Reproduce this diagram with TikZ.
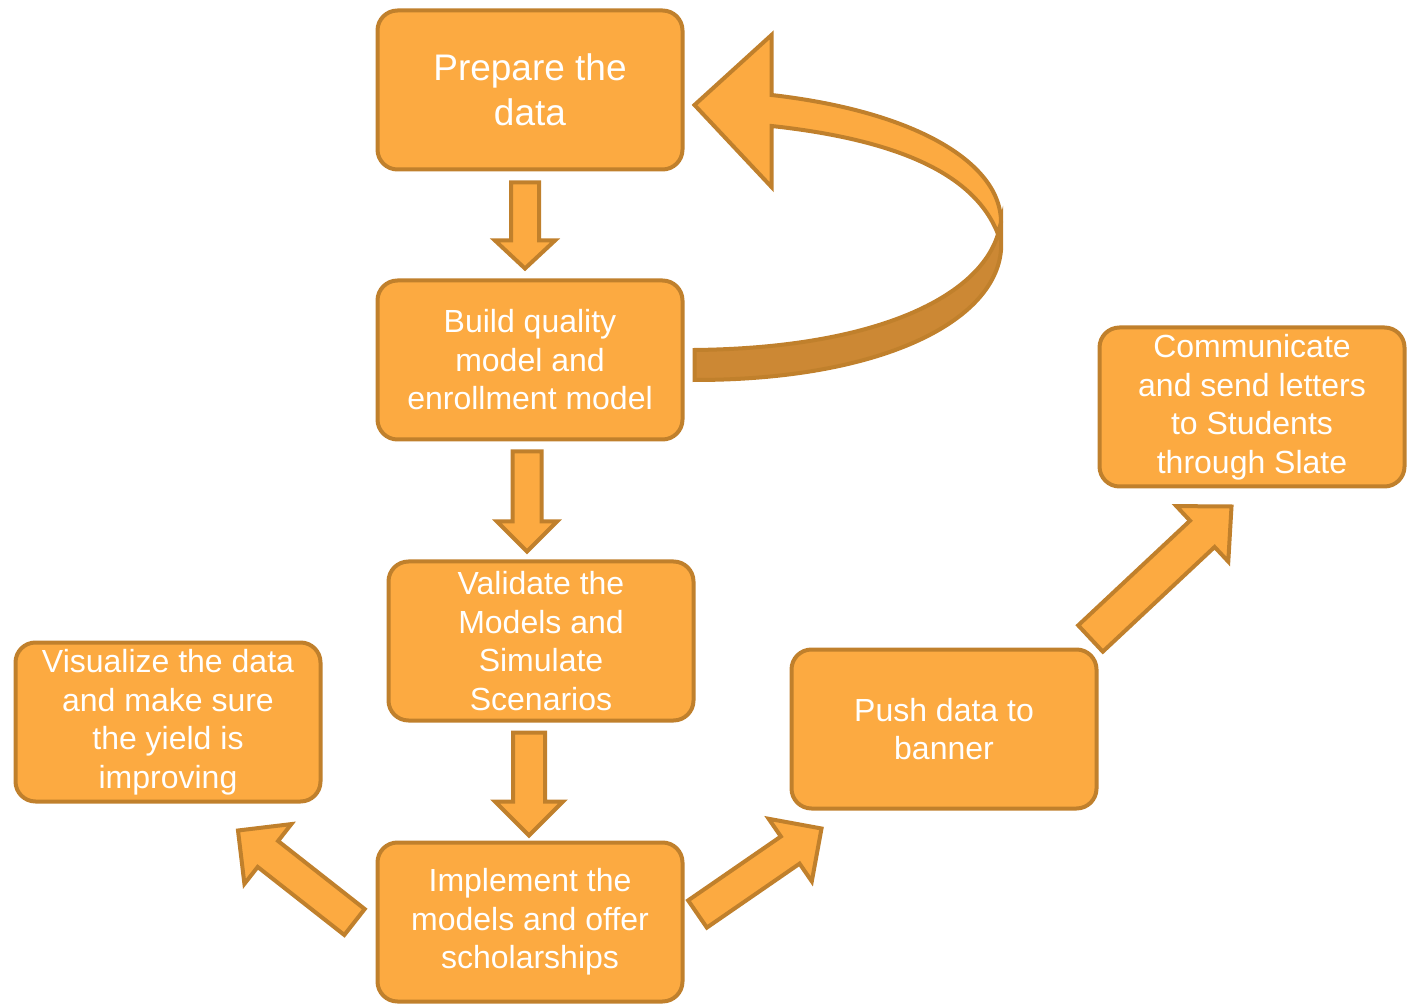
\documentclass[tikz,border=0pt]{standalone}
\usepackage{fontspec}
\setmainfont{Liberation Sans}
\usetikzlibrary{calc}
\definecolor{boxfill}{RGB}{252,170,65}
\definecolor{boxline}{RGB}{192,128,44}
\definecolor{backfill}{RGB}{204,136,52}

\tikzset{
  stepbox/.style={draw=boxline, fill=boxfill, line width=2pt, rounded corners=10pt,
    minimum width=152.5pt, minimum height=79.5pt, text width=130pt, align=flush center,
    inner sep=0pt, text=white, font=\fontsize{16}{19.25}\selectfont},
  bigtext/.style={font=\fontsize{18.5}{22.5}\selectfont},
  blockarr/.style={draw=boxline, fill=boxfill, line width=2pt, line join=miter}
}

% block arrow: start, tip, half shaft, half head, head length
\newcommand{\barrow}[5]{%
  \coordinate (hb) at ($#2!#5!#1$);
  \draw[blockarr] ($#1!#3!90:#2$) -- ($(hb)!#3!90:#2$) -- ($(hb)!#4!90:#2$) -- #2
    -- ($(hb)!#4!-90:#2$) -- ($(hb)!#3!-90:#2$) -- ($#1!#3!-90:#2$) -- cycle;
}

\begin{document}
\begin{tikzpicture}[x=0.5pt, y=-0.5pt]
  \useasboundingbox (0,0) rectangle (1412,1004);

  \node[stepbox, bigtext] (prep) at (530,90) {Prepare the data};
  \node[stepbox] (build) at (530,360) {Build quality model and enrollment model};
  \node[stepbox] (valid) at (541,641) {Validate the Models and Simulate Scenarios};
  \node[stepbox] (impl) at (530,922) {Implement the models and offer scholarships};
  \node[stepbox] (vis) at (168,722) {Visualize the data and make sure the yield is improving};
  \node[stepbox] (push) at (944,729) {Push data to banner};
  \node[stepbox, text width=120pt] (comm) at (1252,407) {Communicate and send letters to Students through Slate};

  % ends of the block arrows
  \coordinate (d1a) at ($(prep.south)+(-5,11)$);
  \coordinate (d1b) at ($(build.north)+(-5,-10)$);
  \coordinate (d2a) at ($(build.south)+(-3,10)$);
  \coordinate (d2b) at ($(valid.north)+(-14,-8)$);
  \coordinate (d3a) at ($(valid.south)+(-12,10)$);
  \coordinate (d3b) at ($(impl.north)+(-1,-5)$);
  \coordinate (l1a) at ($(impl.west)+(-21,0)$);
  \coordinate (l1b) at ($(vis.south)+(70,27)$);
  \coordinate (r1a) at ($(impl.east)+(13,-8)$);
  \coordinate (r1b) at ($(push.south west)+(32,18)$);
  \coordinate (r2a) at ($(push.north east)+(-8,-9)$);
  \coordinate (r2b) at ($(comm.south west)+(134,18)$);

  \barrow{(d1a)}{(d1b)}{7pt}{15pt}{14pt}
  \barrow{(d2a)}{(d2b)}{7.25pt}{15pt}{15pt}
  \barrow{(d3a)}{(d3b)}{8pt}{17pt}{17pt}
  \barrow{(l1a)}{(l1b)}{8.25pt}{19pt}{19pt}
  \barrow{(r1a)}{(r1b)}{8.25pt}{19pt}{19pt}
  \barrow{(r2a)}{(r2b)}{9pt}{19pt}{20pt}

  % curved arrow back to the data
  \coordinate (ca) at ($(build.east)+(10,-10)$);
  \coordinate (cb) at ($(prep.east)+(10,15)$);
  \draw[blockarr, fill=backfill] (ca) .. controls (880,348) and (980,295) .. (998,234)
    -- (1001,222) -- (1001,250) .. controls (995,322) and (880,380) .. ($(ca)+(0,30)$) -- cycle;
  \draw[blockarr] ($(cb)+(77,-10)$) .. controls (920,112) and (1001,165) .. (1001,222)
    -- (998,234) .. controls (975,175) and (900,140) .. ($(cb)+(77,21)$)
    -- ($(cb)+(77,82)$) -- (cb) -- ($(cb)+(77,-70)$) -- cycle;
\end{tikzpicture}
\end{document}
